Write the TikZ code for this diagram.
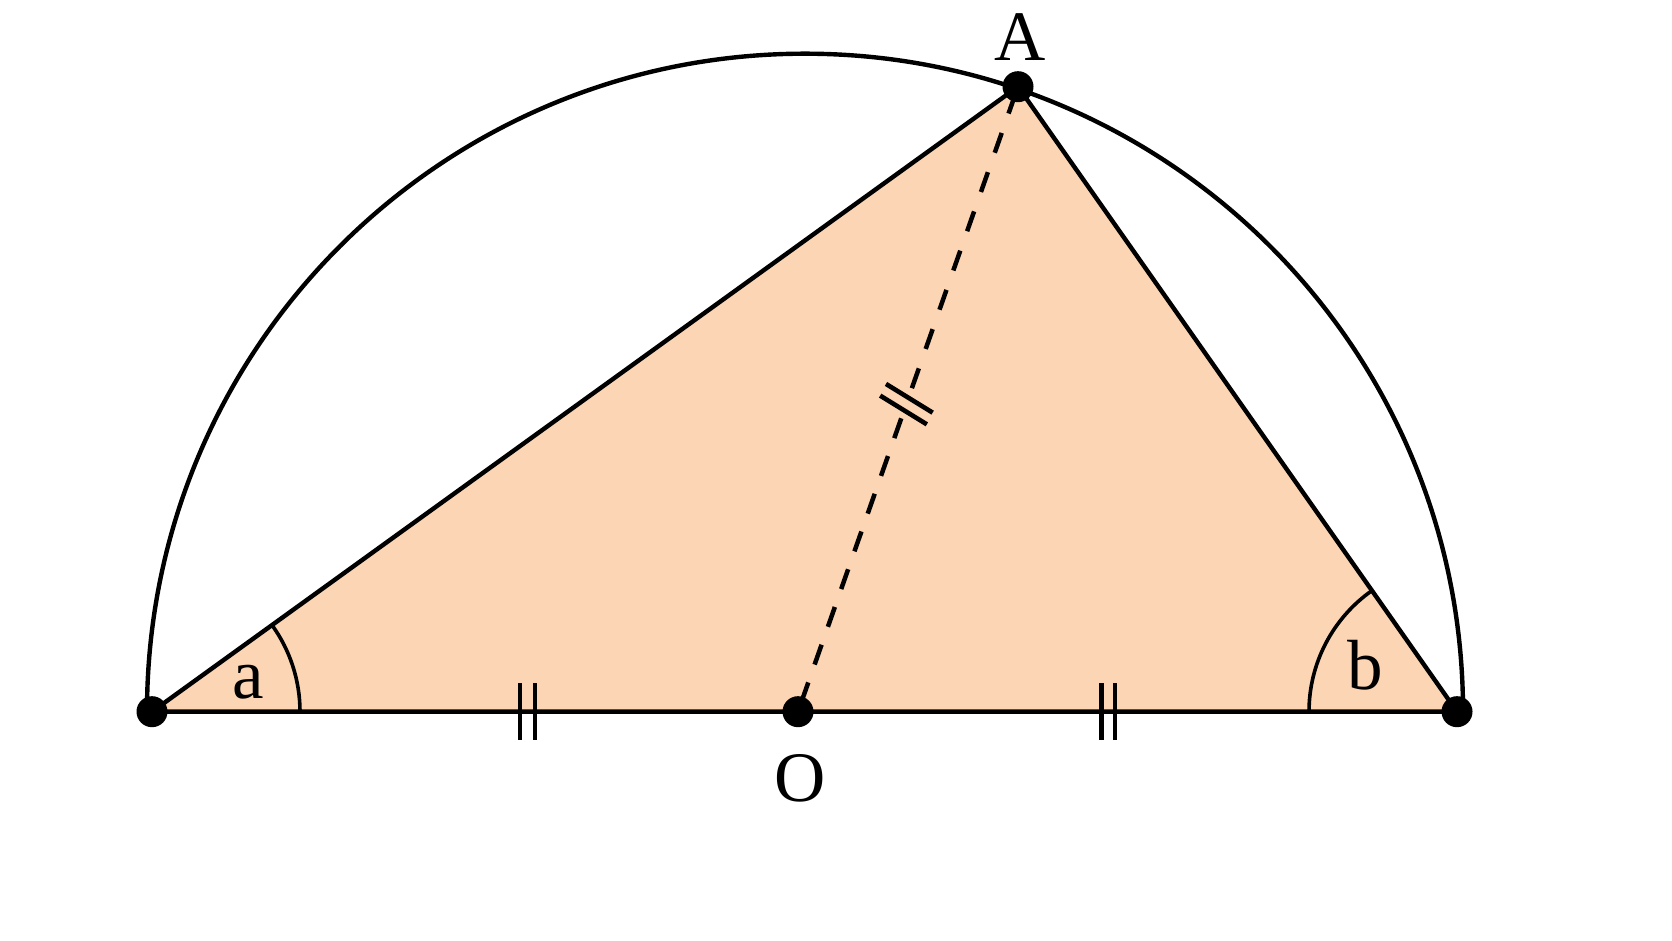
\documentclass[tikz,border=0pt]{standalone}
\usepackage{fontspec}
\setmainfont{Liberation Serif}
\usetikzlibrary{calc}
\definecolor{peach}{RGB}{252,213,180}
\begin{document}
\begin{tikzpicture}[x=1pt,y=1pt,line join=round,
  edge/.style={line width=4.4pt},
  dashedge/.style={line width=4.5pt},
  anglearc/.style={line width=3.6pt},
  tickmark/.style={line width=4.6pt},
  dotnode/.style={circle,fill=black,inner sep=0pt,minimum size=31pt},
  lab/.style={inner sep=0pt,font=\fontsize{71}{80}\selectfont}]
\useasboundingbox (0,0) rectangle (1672,941);
\fill[white] (0,0) rectangle (1672,941);
\coordinate (L) at (152,229.3);
\coordinate (R) at (1457,229.3);
\coordinate (O) at (798,229.3);
\coordinate (A) at (1018,854.3);
\coordinate (C) at (805,229.3);
% filled triangle
\fill[peach] (L) -- (A) -- (R) -- cycle;
% semicircle
\draw[edge] ([shift={(0:658)}]C) arc[start angle=0,end angle=180,radius=658];
% triangle sides
\draw[edge] (L) -- (A) -- (R) -- cycle;
% dashed radius, interrupted at the tick marks
\coordinate (P1) at ($(O)!0.471!(A)$);
\coordinate (P2) at ($(O)!0.5176!(A)$);
\draw[dashedge,dash pattern=on 21pt off 19pt,dash phase=30pt] (O) -- (P1);
\draw[dashedge,dash pattern=on 21pt off 20.6pt] (P2) -- (A);
% angle arcs
\draw[anglearc] ([shift={(0:148)}]L) arc[start angle=0,end angle=35.8,radius=148];
\draw[anglearc] ([shift={(125.04:148)}]R) arc[start angle=125.04,end angle=180,radius=148];
% equal-length ticks on base
\coordinate (T1) at (520,229.3);
\coordinate (T2) at (535,229.3);
\coordinate (T3) at (1101.7,229.3);
\coordinate (T4) at (1115,229.3);
\foreach \t in {T1,T2,T3,T4}{
  \draw[tickmark] ([yshift=28.5pt]\t) -- ([yshift=-28.5pt]\t);
}
% ticks on OA
\coordinate (T5) at (909.3,542.7);
\coordinate (T6) at (903.5,531);
\foreach \t in {T5,T6}{
  \draw[tickmark] ([shift={(-31.6:27.4)}]\t) -- ([shift={(148.4:27.4)}]\t);
}
% dots
\node[dotnode] (Ld) at (L) {};
\node[dotnode] (Rd) at (R) {};
\node[dotnode] (Od) at (O) {};
\node[dotnode] (Ad) at (A) {};
% labels
\node[lab] (labA) at (1020,904.3) {A};
\node[lab] (labO) at (800,163) {O};
\node[lab] (laba) at (248,258.5) {a};
\node[lab] (labb) at (1365.5,276) {b};
\end{tikzpicture}
\end{document}
